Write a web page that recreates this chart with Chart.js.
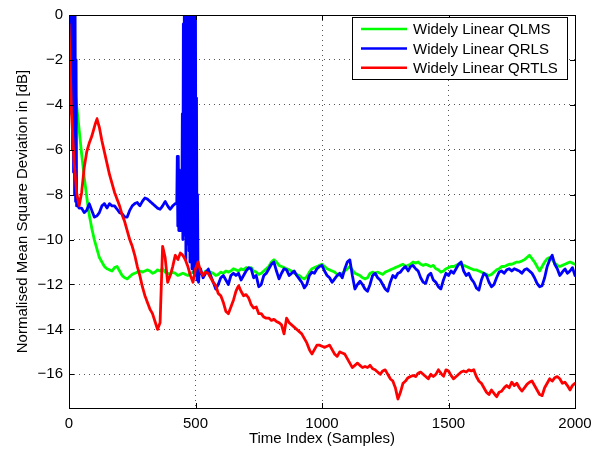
<!DOCTYPE html>
<html>
<head>
<meta charset="utf-8">
<script src="https://cdn.jsdelivr.net/npm/chart.js@4"></script>
<style>
  body { margin: 0; background: #fff; }
  #wrap { width: 607px; height: 451px; position: relative; }
</style>
</head>
<body>
<div id="wrap"><canvas id="chart"></canvas></div>
<script>
// Axis ticks
const xTicks = [0, 500, 1000, 1500, 2000];
const yTicks = [-16, -14, -12, -10, -8, -6, -4, -2, 0];

const seriesLabels = ['Widely Linear QLMS', 'Widely Linear QRLS', 'Widely Linear QRTLS'];
const seriesColors = ['#00ff00', '#0000ff', '#ff0000'];

// values every 10 samples, 0..2000
const qlms = [
  -0.3, -1.6, -2.9, -4.0, -5.1, -6.2, -7.2, -8.1, -8.9, -9.5,
  -10.0, -10.4, -10.8, -11.0, -11.2, -11.3, -11.35, -11.4, -11.25, -11.2,
  -11.4, -11.6, -11.7, -11.75, -11.65, -11.55, -11.5, -11.45, -11.4, -11.45,
  -11.4, -11.35, -11.4, -11.5, -11.45, -11.35, -11.4, -11.3, -11.45, -11.5,
  -11.55, -11.45, -11.5, -11.6, -11.55, -11.5, -11.55, -11.6, -11.5, -11.45,
  -11.5, -11.45, -11.5, -11.55, -11.4, -11.5, -11.45, -11.5, -11.6, -11.55,
  -11.45, -11.5, -11.4, -11.45, -11.4, -11.3, -11.35, -11.4, -11.3, -11.35,
  -11.25, -11.3, -11.25, -11.4, -11.45, -11.55, -11.5, -11.4, -11.3, -11.2,
  -11.0, -10.9, -11.0, -11.15, -11.2, -11.25, -11.3, -11.35, -11.4, -11.5,
  -11.55, -11.6, -11.7, -11.75, -11.65, -11.45, -11.3, -11.25, -11.2, -11.15,
  -11.1, -11.2, -11.3, -11.35, -11.4, -11.45, -11.55, -11.6, -11.5, -11.4,
  -11.3, -11.2, -11.35, -11.5, -11.55, -11.6, -11.7, -11.75, -11.7, -11.5,
  -11.45, -11.5, -11.45, -11.5, -11.55, -11.45, -11.4, -11.35, -11.3, -11.25,
  -11.2, -11.15, -11.1, -11.2, -11.15, -11.1, -11.0, -11.05, -11.0, -11.1,
  -11.15, -11.1, -11.15, -11.2, -11.15, -11.3, -11.35, -11.45, -11.4, -11.3,
  -11.25, -11.2, -11.2, -11.15, -11.1, -11.1, -11.15, -11.2, -11.25, -11.3,
  -11.35, -11.35, -11.4, -11.45, -11.5, -11.55, -11.6, -11.55, -11.45, -11.35,
  -11.3, -11.2, -11.2, -11.15, -11.1, -11.1, -11.05, -11.0, -11.0, -10.95,
  -10.9, -10.8, -10.7, -10.85, -11.0, -11.2, -11.4, -11.2, -11.0, -10.85,
  -10.8, -10.9, -11.05, -11.15, -11.2, -11.15, -11.1, -11.05, -11.0, -11.05,
  -11.1
];

// QRLS every 10 samples; null where the burst arrays below take over
const qrls = [
  null, null, null, null, -8.6, -8.6, -8.8, -8.7, -8.4, -8.7,
  -9.0, -8.95, -8.8, -8.5, -8.4, -8.6, -8.4, -8.5, -8.5, -8.65,
  -8.8, -8.85, -9.0, -9.0, -8.7, -8.5, -8.4, -8.35, -8.5, -8.3,
  -8.15, -8.2, -8.3, -8.4, -8.5, -8.6, -8.65, -8.5, -8.3, -8.5,
  -8.65, -8.5, -8.4, null, null, null, null, null, null, null,
  null, null, -11.3, -11.7, -11.5, -11.3, -11.6, -11.9, -12.2, -12.0,
  -11.7, -11.6, -11.8, -12.0, -11.6, -11.5, -11.6, -11.5, -11.8, -11.6,
  -11.4, -11.25, -11.3, -11.7, -11.6, -12.1, -12.0, -11.6, -11.5, -11.3,
  -11.1, -11.0, -11.4, -11.75, -11.5, -11.3, -11.35, -11.6, -11.5, -11.4,
  -11.6, -11.75, -11.9, -12.15, -12.0, -11.6, -11.45, -11.5, -11.3, -11.2,
  -11.15, -11.4, -11.6, -11.7, -11.9, -11.75, -11.6, -11.5, -11.7, -11.3,
  -11.0, -10.9, -11.6, -12.2, -12.0, -11.85, -12.0, -12.2, -12.3, -12.0,
  -11.6, -11.5, -11.7, -11.8, -12.0, -12.2, -12.3, -11.9, -11.6, -11.7,
  -11.5, -11.45, -11.3, -11.2, -11.4, -11.2, -11.15, -11.3, -11.4, -11.7,
  -11.9, -11.95, -11.6, -11.5, -11.8, -11.9, -12.1, -12.2, -11.8, -11.5,
  -11.6, -11.4, -11.5, -11.3, -11.1, -11.0, -11.4, -11.6, -11.5, -11.75,
  -11.9, -12.15, -12.25, -11.8, -11.5, -11.6, -11.9, -12.1, -12.0, -11.7,
  -11.45, -11.4, -11.5, -11.35, -11.3, -11.4, -11.3, -11.35, -11.4, -11.5,
  -11.35, -11.3, -11.4, -11.5, -11.7, -11.95, -12.1, -12.05, -11.7, -11.2,
  -10.9, -10.7, -11.1, -11.3, -11.6, -11.45, -11.3, -11.5, -11.4, -11.25,
  -11.6
];

// QRLS start-up and divergence bursts (every 2 samples)
const qrlsStartIdx = [0, 2, 4, 6, 8, 10, 12, 14, 16, 18, 20, 22, 24, 26, 28, 30, 32];
const qrlsStart = [1, -4, 1, -4.3, 1, -4.4, 1, -6, 1, -7, 1, -8, 0.5, -8.3, -2, -8.5, -8.4];

const qrlsBurstIdx = [
  426, 428, 430, 432, 434, 436, 438, 440, 442, 444, 446, 448, 450, 452, 454,
  456, 458, 460, 462, 464, 466, 468, 470, 472, 474, 476, 478, 480, 482, 484,
  486, 488, 490, 492, 494, 496, 498, 500, 502, 504, 506, 508, 510, 512, 514
];
const qrlsBurst = [
  -8.4, -6.3, -9.4, -6.3, -9.6, -6.9, -9.3, -7.1, -9.6, -7.3, -9.0, -4.4, -10.0, -0.4, -9.8,
  1.5, -9.5, 2, -10.9, 2, -10.2, 2, -9.8, 2, -10.5, 2, -11.0, 2, -10.4, 2,
  -11.3, 2, -11.0, 2, -11.5, 1, -11.4, 0, -11.6, -3.7, -11.8, -8, -11.5, -11.9, -11.6
];

const qrtls = [
  -0.4, -4.4, -6.5, -7.9, -8.5, -7.9, -6.8, -6.1, -5.7, -5.4,
  -5.0, -4.6, -5.0, -5.6, -6.1, -6.6, -7.1, -7.5, -7.9, -8.2,
  -8.5, -8.9, -9.2, -9.6, -10.0, -10.3, -10.7, -11.2, -11.6, -12.1,
  -12.5, -12.8, -13.1, -13.3, -13.65, -14.0, -13.7, -10.3, -10.8, -11.9,
  -11.6, -11.2, -10.7, -10.9, -10.6, -10.7, -10.9, -11.2, -11.6, -11.9,
  -11.3, -11.0, -11.4, -11.6, -11.45, -11.5, -11.7, -11.9, -12.05, -12.4,
  -12.5, -12.8, -13.2, -13.3, -13.0, -12.7, -12.3, -12.05, -12.3, -12.5,
  -12.45, -12.6, -12.9, -13.05, -13.0, -13.3, -13.3, -13.45, -13.5, -13.5,
  -13.6, -13.55, -13.65, -13.7, -13.8, -14.2, -13.5, -13.7, -13.8, -13.9,
  -14.0, -14.1, -14.2, -14.4, -14.6, -14.9, -15.1, -14.9, -14.7, -14.7,
  -14.75, -14.8, -14.75, -14.7, -14.9, -15.1, -15.2, -15.0, -15.05, -15.1,
  -15.3, -15.5, -15.7, -15.6, -15.5, -15.6, -15.7, -15.65, -15.7, -15.6,
  -15.75, -15.8, -15.9, -16.0, -15.85, -15.8, -16.0, -16.2, -16.3, -16.6,
  -17.1, -16.8, -16.4, -16.3, -16.15, -16.1, -16.05, -16.1, -15.95, -15.9,
  -16.0, -16.1, -16.2, -16.0, -16.1, -16.0, -15.8, -15.95, -16.1, -15.8,
  -15.85, -16.05, -16.2, -16.1, -16.0, -15.9, -15.85, -15.9, -15.8, -15.85,
  -15.8, -16.1, -16.3, -16.4, -16.6, -16.8, -16.9, -16.7, -16.85, -17.0,
  -16.8, -16.75, -16.6, -16.5, -16.6, -16.35, -16.5, -16.4, -16.6, -16.75,
  -16.6, -16.45, -16.35, -16.3, -16.5, -16.7, -16.9, -16.95, -16.6, -16.4,
  -16.2, -16.3, -16.15, -16.1, -16.2, -16.4, -16.35, -16.5, -16.7, -16.5,
  -16.4
];

const STEP = 10;
const FONT = '"Liberation Sans", Arial, Helvetica, sans-serif';

function toPoints(values) {
  const pts = [];
  values.forEach((v, i) => {
    if (v !== null) pts.push({ x: i * STEP, y: v });
  });
  return pts;
}

function withBursts(values, bursts) {
  let pts = toPoints(values);
  bursts.forEach(([idx, vals]) => {
    idx.forEach((x, i) => pts.push({ x: x, y: vals[i] }));
  });
  return pts.sort((a, b) => a.x - b.x);
}

function minusSign(v) {
  return String(v).replace('-', '\u2212');
}

// box, inward ticks, axis titles and the legend box
const decorations = {
  id: 'decorations',
  afterDraw(chart) {
    const { ctx, chartArea: a, scales } = chart;
    const tl = 5;
    ctx.save();
    ctx.strokeStyle = '#000';
    ctx.lineWidth = 1;
    ctx.beginPath();
    xTicks.forEach(t => {
      const x = Math.round(scales.x.getPixelForValue(t)) + 0.5;
      ctx.moveTo(x, a.bottom); ctx.lineTo(x, a.bottom - tl);
      ctx.moveTo(x, a.top); ctx.lineTo(x, a.top + tl);
    });
    yTicks.forEach(t => {
      const y = Math.round(scales.y.getPixelForValue(t)) + 0.5;
      ctx.moveTo(a.left, y); ctx.lineTo(a.left + tl, y);
      ctx.moveTo(a.right, y); ctx.lineTo(a.right - tl, y);
    });
    ctx.stroke();
    ctx.strokeRect(Math.round(a.left) + 0.5, Math.round(a.top) + 0.5,
      Math.round(a.right - a.left), Math.round(a.bottom - a.top));

    // axis titles
    ctx.fillStyle = '#000';
    ctx.font = '15px ' + FONT;
    ctx.textAlign = 'center';
    ctx.textBaseline = 'middle';
    ctx.fillText('Time Index (Samples)', (a.left + a.right) / 2, 439);
    ctx.translate(23, (a.top + a.bottom) / 2);
    ctx.rotate(-Math.PI / 2);
    ctx.fillText('Normalised Mean Square Deviation in [dB]', 0, 0);
    ctx.setTransform(1, 0, 0, 1, 0, 0);
    ctx.restore();

    // legend
    ctx.save();
    const lx = 352, ly = 17, lw = 215, lh = 62;
    ctx.fillStyle = '#fff';
    ctx.fillRect(lx, ly, lw, lh);
    ctx.strokeStyle = '#000';
    ctx.lineWidth = 1;
    ctx.strokeRect(lx + 0.5, ly + 0.5, lw, lh);
    ctx.font = '15px ' + FONT;
    ctx.textAlign = 'left';
    ctx.textBaseline = 'middle';
    seriesLabels.forEach((label, i) => {
      const y = 29 + i * 19.4;
      ctx.strokeStyle = seriesColors[i];
      ctx.lineWidth = 2.5;
      ctx.beginPath();
      ctx.moveTo(361, y); ctx.lineTo(407, y);
      ctx.stroke();
      ctx.fillStyle = '#000';
      ctx.fillText(label, 413, y + 1);
    });
    ctx.restore();
  }
};

// tiny tension keeps Chart.js off its per-pixel fast path so the bursts stay solid
const lineStyle = {
  pointRadius: 0,
  borderWidth: 2.8,
  tension: 0.0001,
  fill: false,
  borderJoinStyle: 'round',
  borderCapStyle: 'round'
};

new Chart(document.getElementById('chart'), {
  type: 'line',
  data: {
    datasets: [
      { ...lineStyle, label: seriesLabels[0], data: toPoints(qlms), borderColor: seriesColors[0], order: 3 },
      { ...lineStyle, label: seriesLabels[1],
        data: withBursts(qrls, [[qrlsStartIdx, qrlsStart], [qrlsBurstIdx, qrlsBurst]]),
        borderColor: seriesColors[1], order: 2 },
      { ...lineStyle, label: seriesLabels[2], data: toPoints(qrtls), borderColor: seriesColors[2], order: 1 }
    ]
  },
  options: {
    responsive: true,
    maintainAspectRatio: false,
    animation: false,
    events: [],
    layout: { padding: { top: 10, right: 32, left: 0, bottom: 0 } },
    plugins: { legend: { display: false }, tooltip: { enabled: false } },
    scales: {
      x: {
        type: 'linear',
        min: 0,
        max: 2000,
        afterFit: s => { s.height = 43; },
        afterBuildTicks: s => { s.ticks = xTicks.map(v => ({ value: v })); },
        grid: { color: '#555', lineWidth: 1, drawTicks: false },
        border: { display: false, dash: [1, 4] },
        ticks: { color: '#000', padding: 7, maxRotation: 0, callback: v => String(v), font: { family: FONT, size: 15 } }
      },
      y: {
        type: 'linear',
        min: -17.5,
        max: 0,
        afterFit: s => { s.width = 69; },
        afterBuildTicks: s => { s.ticks = yTicks.map(v => ({ value: v })); },
        grid: { color: '#555', lineWidth: 1, drawTicks: false },
        border: { display: false, dash: [1, 4] },
        ticks: { color: '#000', padding: 6, callback: v => minusSign(v), font: { family: FONT, size: 15 } }
      }
    }
  },
  plugins: [decorations]
});
</script>
</body>
</html>
